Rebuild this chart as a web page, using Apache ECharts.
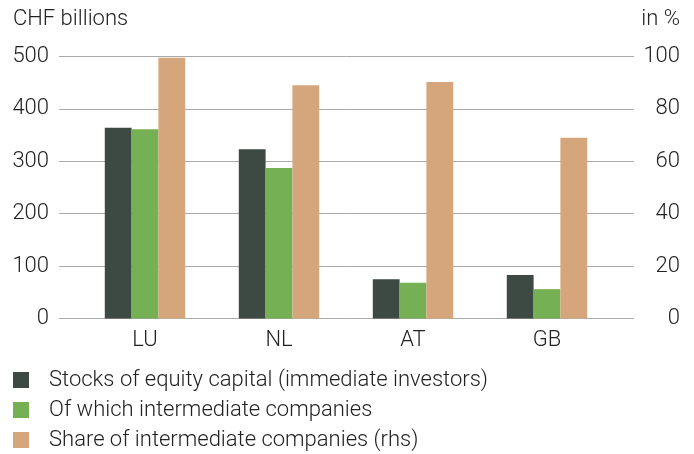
<!DOCTYPE html>
<html>
<head>
<meta charset="utf-8">
<script src="https://cdn.jsdelivr.net/npm/echarts@6/dist/echarts.min.js"></script>
<style>
  html, body { margin: 0; padding: 0; background: #fff; }
  #chart-root { width: 694px; height: 454px; }
</style>
</head>
<body>
<div id="chart-root"></div>
<script>
const categories = ['LU', 'NL', 'AT', 'GB'];
const stocksEquity = [364, 323, 75, 83];
const intermediate = [361, 287, 68, 56];
const shareIntermediate = [99.5, 89, 90.3, 69];
const leftTicks = [0, 100, 200, 300, 400, 500];
const rightTicks = [0, 20, 40, 60, 80, 100];

const seriesNames = [
  'Stocks of equity capital (immediate investors)',
  'Of which intermediate companies',
  'Share of intermediate companies (rhs)'
];
const colors = ['#3d4a43', '#76b054', '#d5a67b'];

const FONT = 'Roboto, "Liberation Sans", sans-serif';
const FS = 22;
const textColor = '#222';
const gridColor = '#aaa';

const root = document.getElementById('chart-root');
const chart = echarts.init(root);

const gridTop = 56.5;
const gridBottom = 135.5;

chart.setOption({
  animation: false,
  color: colors,
  textStyle: { fontFamily: FONT },
  title: [
    { text: 'CHF billions', left: 13, top: 8, padding: 0, textStyle: { fontFamily: FONT, fontSize: FS, fontWeight: 300, color: textColor } },
    { text: 'in %', right: 14, top: 8, padding: 0, textStyle: { fontFamily: FONT, fontSize: FS, fontWeight: 300, color: textColor } }
  ],
  legend: {
    orient: 'vertical',
    left: 13,
    top: 369,
    height: 90,
    padding: 0,
    itemWidth: 16,
    itemHeight: 16,
    itemGap: 8,
    icon: 'rect',
    data: seriesNames,
    textStyle: { fontFamily: FONT, fontSize: FS, fontWeight: 300, color: textColor, padding: [0, 0, 0, 15], lineHeight: 22 }
  },
  grid: [
    { left: 59, right: 60, top: gridTop, bottom: gridBottom },
    { left: 78, right: 80, top: gridTop, bottom: gridBottom }
  ],
  xAxis: [
    { gridIndex: 0, type: 'value', show: false, min: 0, max: 1 },
    {
      gridIndex: 1, type: 'category', data: categories,
      axisLine: { show: false }, axisTick: { show: false },
      axisLabel: { margin: 11, fontFamily: FONT, fontSize: FS, fontWeight: 300, color: textColor }
    }
  ],
  yAxis: [
    {
      gridIndex: 0, type: 'value', position: 'left', min: 0, max: 500, interval: 100,
      axisLine: { show: false }, axisTick: { show: false },
      splitLine: { lineStyle: { color: gridColor, width: 1 } },
      axisLabel: { margin: 10, fontFamily: FONT, fontSize: FS, fontWeight: 300, color: textColor,
        formatter: function (v) { return leftTicks.indexOf(v) >= 0 ? String(v) : ''; } }
    },
    {
      gridIndex: 0, type: 'value', position: 'right', min: 0, max: 100, interval: 20,
      axisLine: { show: false }, axisTick: { show: false }, splitLine: { show: false },
      axisLabel: { margin: 46, align: 'right', fontFamily: FONT, fontSize: FS, fontWeight: 300, color: textColor,
        formatter: function (v) { return rightTicks.indexOf(v) >= 0 ? String(v) : ''; } }
    },
    { gridIndex: 1, type: 'value', min: 0, max: 500, show: false, splitLine: { show: false } },
    { gridIndex: 1, type: 'value', min: 0, max: 100, show: false, splitLine: { show: false } }
  ],
  series: [
    { name: seriesNames[0], type: 'bar', xAxisIndex: 1, yAxisIndex: 2, data: stocksEquity, barWidth: '20%', barGap: '0%' },
    { name: seriesNames[1], type: 'bar', xAxisIndex: 1, yAxisIndex: 2, data: intermediate, barWidth: '20%', barGap: '0%' },
    { name: seriesNames[2], type: 'bar', xAxisIndex: 1, yAxisIndex: 3, data: shareIntermediate, barWidth: '20%', barGap: '0%' }
  ]
});
</script>
</body>
</html>
